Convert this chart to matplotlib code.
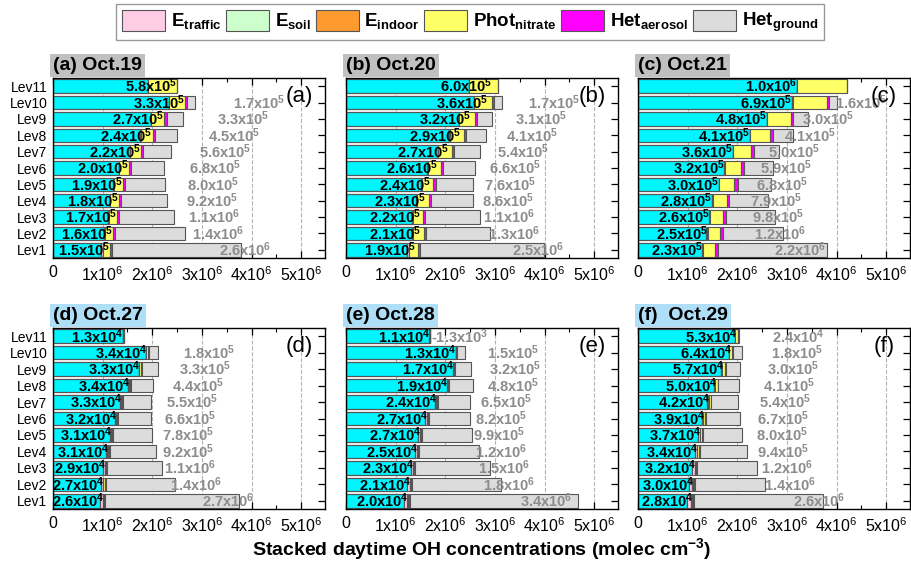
import matplotlib
matplotlib.use("Agg")
import matplotlib.pyplot as plt
from matplotlib.patches import Patch
from matplotlib.ticker import MultipleLocator, FixedLocator
import numpy as np

plt.rcParams['font.family'] = ['Liberation Sans', 'DejaVu Sans']
plt.rcParams['mathtext.fontset'] = 'custom'
plt.rcParams['mathtext.rm'] = 'Liberation Sans'
plt.rcParams['mathtext.bf'] = 'Liberation Sans:bold'
plt.rcParams['mathtext.it'] = 'Liberation Sans:italic'
plt.rcParams['mathtext.sf'] = 'Liberation Sans'
plt.rcParams['mathtext.default'] = 'regular'

levels = ['Lev1', 'Lev2', 'Lev3', 'Lev4', 'Lev5', 'Lev6', 'Lev7', 'Lev8', 'Lev9', 'Lev10', 'Lev11']
panel_titles = ['(a) Oct.19', '(b) Oct.20', '(c) Oct.21', '(d) Oct.27', '(e) Oct.28', '(f)  Oct.29']
panel_letters = ['(a)', '(b)', '(c)', '(d)', '(e)', '(f)']
legend_labels = [r'E$_{\mathbf{traffic}}$', r'E$_{\mathbf{soil}}$', r'E$_{\mathbf{indoor}}$',
                 r'Phot$_{\mathbf{nitrate}}$', r'Het$_{\mathbf{aerosol}}$', r'Het$_{\mathbf{ground}}$']

# Other OH (cyan base segment), molec cm-3, Lev1..Lev11
base_a = [0.97e6, 1.03e6, 1.10e6, 1.14e6, 1.21e6, 1.32e6, 1.55e6, 1.76e6, 1.97e6, 2.33e6, 1.92e6]
base_b = [1.23e6, 1.33e6, 1.32e6, 1.42e6, 1.51e6, 1.64e6, 1.85e6, 2.08e6, 2.27e6, 2.58e6, 2.47e6]
base_c = [1.28e6, 1.38e6, 1.44e6, 1.49e6, 1.63e6, 1.74e6, 1.91e6, 2.25e6, 2.59e6, 3.11e6, 3.20e6]
base_d = [0.95e6, 0.97e6, 1.01e6, 1.07e6, 1.14e6, 1.25e6, 1.35e6, 1.51e6, 1.73e6, 1.87e6, 1.41e6]
base_e = [1.16e6, 1.23e6, 1.30e6, 1.39e6, 1.46e6, 1.60e6, 1.79e6, 2.03e6, 2.16e6, 2.21e6, 1.68e6]
base_f = [0.99e6, 1.03e6, 1.09e6, 1.15e6, 1.21e6, 1.29e6, 1.40e6, 1.54e6, 1.68e6, 1.83e6, 1.95e6]

traffic_a = [3.0e4, 2.0e4, 1.5e4, 1.0e4, 8.0e3, 6.0e3, 5.0e3, 4.0e3, 3.0e3, 2.0e3, 1.0e3]
traffic_b = [3.0e4, 2.0e4, 1.5e4, 1.0e4, 8.0e3, 6.0e3, 5.0e3, 4.0e3, 3.0e3, 2.0e3, 1.0e3]
traffic_c = [3.0e4, 2.0e4, 1.5e4, 1.0e4, 8.0e3, 6.0e3, 5.0e3, 4.0e3, 3.0e3, 2.0e3, 1.0e3]
traffic_d = [5.0e4, 4.0e4, 3.0e4, 2.5e4, 2.0e4, 1.5e4, 1.2e4, 1.0e4, 8.0e3, 6.0e3, 3.0e3]
traffic_e = [7.5e4, 5.5e4, 4.5e4, 3.5e4, 3.0e4, 2.5e4, 2.0e4, 1.5e4, 1.2e4, 8.0e3, 3.0e3]
traffic_f = [8.5e4, 6.5e4, 5.0e4, 4.0e4, 3.0e4, 2.5e4, 2.0e4, 1.5e4, 1.0e4, 6.0e3, 3.0e3]

soil_a = [5.0e3, 4.0e3, 3.0e3, 2.5e3, 2.0e3, 1.5e3, 1.2e3, 1.0e3, 8.0e2, 6.0e2, 3.0e2]
soil_b = [5.0e3, 4.0e3, 3.0e3, 2.5e3, 2.0e3, 1.5e3, 1.2e3, 1.0e3, 8.0e2, 6.0e2, 3.0e2]
soil_c = [5.0e3, 4.0e3, 3.0e3, 2.5e3, 2.0e3, 1.5e3, 1.2e3, 1.0e3, 8.0e2, 6.0e2, 3.0e2]
soil_d = [4.0e3, 3.0e3, 2.5e3, 2.0e3, 1.5e3, 1.2e3, 1.0e3, 8.0e2, 6.0e2, 4.0e2, 2.0e2]
soil_e = [4.0e3, 3.0e3, 2.5e3, 2.0e3, 1.5e3, 1.2e3, 1.0e3, 8.0e2, 6.0e2, 4.0e2, 2.0e2]
soil_f = [4.0e3, 3.0e3, 2.5e3, 2.0e3, 1.5e3, 1.2e3, 1.0e3, 8.0e2, 6.0e2, 4.0e2, 2.0e2]

indoor_a = [3.0e3, 2.5e3, 2.0e3, 1.5e3, 1.2e3, 1.0e3, 8.0e2, 6.0e2, 5.0e2, 4.0e2, 2.0e2]
indoor_b = [3.0e3, 2.5e3, 2.0e3, 1.5e3, 1.2e3, 1.0e3, 8.0e2, 6.0e2, 5.0e2, 4.0e2, 2.0e2]
indoor_c = [3.0e3, 2.5e3, 2.0e3, 1.5e3, 1.2e3, 1.0e3, 8.0e2, 6.0e2, 5.0e2, 4.0e2, 2.0e2]
indoor_d = [2.0e3, 1.8e3, 1.5e3, 1.2e3, 1.0e3, 8.0e2, 6.0e2, 5.0e2, 4.0e2, 3.0e2, 2.0e2]
indoor_e = [2.0e3, 1.8e3, 1.5e3, 1.2e3, 1.0e3, 8.0e2, 6.0e2, 5.0e2, 4.0e2, 3.0e2, 2.0e2]
indoor_f = [2.0e3, 1.8e3, 1.5e3, 1.2e3, 1.0e3, 8.0e2, 6.0e2, 5.0e2, 4.0e2, 3.0e2, 2.0e2]

nitrate_a = [1.5e5, 1.6e5, 1.7e5, 1.8e5, 1.9e5, 2.0e5, 2.2e5, 2.4e5, 2.7e5, 3.3e5, 5.8e5]
nitrate_b = [1.9e5, 2.1e5, 2.2e5, 2.3e5, 2.4e5, 2.6e5, 2.7e5, 2.9e5, 3.2e5, 3.6e5, 6.0e5]
nitrate_c = [2.3e5, 2.5e5, 2.6e5, 2.8e5, 3.0e5, 3.2e5, 3.6e5, 4.1e5, 4.8e5, 6.9e5, 1.0e6]
nitrate_d = [2.6e4, 2.7e4, 2.9e4, 3.1e4, 3.1e4, 3.2e4, 3.3e4, 3.4e4, 3.3e4, 3.4e4, 1.3e4]
nitrate_e = [2.0e4, 2.1e4, 2.3e4, 2.5e4, 2.7e4, 2.7e4, 2.4e4, 1.9e4, 1.7e4, 1.3e4, 1.1e4]
nitrate_f = [2.8e4, 3.0e4, 3.2e4, 3.4e4, 3.7e4, 3.9e4, 4.2e4, 5.0e4, 5.7e4, 6.4e4, 5.3e4]

aerosol_a = [3.5e4, 4.0e4, 4.0e4, 4.0e4, 4.0e4, 3.5e4, 4.5e4, 4.5e4, 4.5e4, 3.5e4, 0.0]
aerosol_b = [3.5e4, 4.0e4, 4.0e4, 4.0e4, 4.5e4, 4.0e4, 4.0e4, 4.0e4, 4.5e4, 3.5e4, 0.0]
aerosol_c = [6.5e4, 6.0e4, 6.0e4, 5.3e4, 6.7e4, 6.7e4, 6.7e4, 5.3e4, 4.7e4, 5.3e4, 0.0]
aerosol_d = [2.0e4, 2.0e4, 2.0e4, 2.0e4, 2.0e4, 2.0e4, 2.0e4, 2.0e4, 1.5e4, 1.5e4, 0.0]
aerosol_e = [2.0e4, 2.0e4, 2.0e4, 2.0e4, 2.0e4, 2.0e4, 1.5e4, 1.5e4, 1.0e4, 1.0e4, 0.0]
aerosol_f = [2.0e4, 2.0e4, 2.0e4, 2.0e4, 2.0e4, 2.0e4, 1.5e4, 1.5e4, 1.5e4, 1.5e4, 5.0e3]

ground_a = [2.6e6, 1.4e6, 1.1e6, 9.2e5, 8.0e5, 6.8e5, 5.6e5, 4.5e5, 3.3e5, 1.7e5, 0.0]
ground_b = [2.5e6, 1.3e6, 1.1e6, 8.6e5, 7.6e5, 6.6e5, 5.4e5, 4.1e5, 3.1e5, 1.7e5, 0.0]
ground_c = [2.2e6, 1.2e6, 9.8e5, 7.9e5, 6.8e5, 5.9e5, 5.0e5, 4.1e5, 3.0e5, 1.6e5, 0.0]
ground_d = [2.7e6, 1.4e6, 1.1e6, 9.2e5, 7.8e5, 6.6e5, 5.5e5, 4.4e5, 3.3e5, 1.8e5, 0.0]
ground_e = [3.4e6, 1.8e6, 1.5e6, 1.2e6, 9.9e5, 8.2e5, 6.5e5, 4.8e5, 3.2e5, 1.5e5, -1.3e3]
ground_f = [2.6e6, 1.4e6, 1.2e6, 9.4e5, 8.0e5, 6.7e5, 5.4e5, 4.1e5, 3.0e5, 1.8e5, 2.4e4]

panels = [
    (base_a, traffic_a, soil_a, indoor_a, nitrate_a, aerosol_a, ground_a),
    (base_b, traffic_b, soil_b, indoor_b, nitrate_b, aerosol_b, ground_b),
    (base_c, traffic_c, soil_c, indoor_c, nitrate_c, aerosol_c, ground_c),
    (base_d, traffic_d, soil_d, indoor_d, nitrate_d, aerosol_d, ground_d),
    (base_e, traffic_e, soil_e, indoor_e, nitrate_e, aerosol_e, ground_e),
    (base_f, traffic_f, soil_f, indoor_f, nitrate_f, aerosol_f, ground_f),
]

# styling
base_color = '#00F5FF'
seg_colors = ['#FFCCE6', '#CCFFCC', '#FF9A2E', '#FFFF66', '#FF00FF', '#DCDCDC']
edge = '#555555'
title_bg = ['#C0C0C0'] * 3 + ['#AEDFF7'] * 3
# label placement style per panel
black_frac = [1.0, 0.8, 0.0, 1.0, 1.0, 1.0]
gray_shift = [1.37e6, 1.13e6, 0.55e6, 1.12e6, 1.05e6, 1.21e6]


def sci(v):
    if v == 0:
        return '0'
    e = int(np.floor(np.log10(abs(v))))
    m = v / 10 ** e
    if round(abs(m), 1) >= 10:
        e += 1
        m = v / 10 ** e
    return f'{m:.1f}x10' + r'$^{\mathbf{' + str(e) + '}}$'


W, H = 911, 569
fig = plt.figure(figsize=(W / 100, H / 100), dpi=100)

ax_w = 272 / W
lefts = [53 / W, 346 / W, 638 / W]
row_bottoms = [1 - 258 / H, 1 - 509 / H]
ax_h = [180 / H, 181 / H]

y = np.arange(1, len(levels) + 1)
for i, data in enumerate(panels):
    r, c = divmod(i, 3)
    ax = fig.add_axes([lefts[c], row_bottoms[r], ax_w, ax_h[r]])
    base = np.array(data[0])
    left = np.zeros(len(levels))
    ax.barh(y, base, left=left, height=0.82, color=base_color, edgecolor=edge, linewidth=0.9, zorder=2)
    left = left + base
    starts = []
    for seg, col in zip(data[1:], seg_colors):
        seg = np.array(seg)
        starts.append(left.copy())
        ax.barh(y, seg, left=left, height=0.82, color=col, edgecolor=edge, linewidth=0.8, zorder=2)
        left = left + seg
    total = left
    nitrate = np.array(data[4])
    ground = np.array(data[6])
    # black labels (Phot_nitrate)
    for k in range(len(levels)):
        xa = starts[3][k] + black_frac[i] * nitrate[k]
        ax.text(xa, y[k], sci(nitrate[k]), ha='right', va='center', fontsize=10.5,
                fontweight='bold', color='black', zorder=5)
    # gray labels (Het_ground)
    for k in range(len(levels)):
        g = ground[k]
        if g == 0:
            continue
        if g < 0:
            ax.text(max(total[k], starts[5][k]) + 0.02e6, y[k], sci(g), ha='left', va='center',
                    fontsize=10.5, fontweight='bold', color='#8C8C8C', zorder=5)
        else:
            xc = starts[5][k] + g / 2 + gray_shift[i]
            ax.text(xc, y[k], sci(g), ha='center', va='center', fontsize=10.5,
                    fontweight='bold', color='#8C8C8C', zorder=5)

    ax.set_xlim(0, 5.48e6)
    ax.set_ylim(0.5, len(levels) + 0.5)
    ax.set_yticks(y)
    ax.set_yticklabels(levels if c == 0 else [])
    ax.xaxis.set_major_locator(FixedLocator([0, 1e6, 2e6, 3e6, 4e6, 5e6]))
    ax.set_xticklabels(['0'] + [f'{n}x10' + r'$^{6}$' for n in range(1, 6)])
    ax.xaxis.set_minor_locator(MultipleLocator(0.5e6))
    ax.tick_params(axis='both', which='major', direction='in', top=True, right=True,
                   length=5, width=0.9)
    ax.tick_params(axis='x', which='minor', direction='in', top=True, length=3, width=0.8)
    ax.tick_params(axis='x', labelsize=11.5, pad=5)
    ax.tick_params(axis='y', labelsize=10, pad=4)
    ax.grid(axis='x', which='major', linestyle='--', color='#B4B4B4', linewidth=0.8, zorder=0)
    ax.set_axisbelow(True)
    for s in ax.spines.values():
        s.set_linewidth(1.0)
    ax.text(0.0, 1.0 + 4 / 180, panel_titles[i], transform=ax.transAxes, ha='left', va='bottom',
            fontsize=14, fontweight='bold',
            bbox=dict(facecolor=title_bg[i], edgecolor='none', boxstyle='square,pad=0.15'))
    ax.text(0.905, 0.9, panel_letters[i], transform=ax.transAxes, ha='center', va='center',
            fontsize=16, zorder=6)

handles = [Patch(facecolor=col, edgecolor=edge, linewidth=0.8) for col in seg_colors]
fig.legend(handles, legend_labels, loc='center', bbox_to_anchor=(470 / W, 1 - 22 / H), ncol=6,
           prop={'weight': 'bold', 'size': 13.5}, frameon=True, fancybox=False, edgecolor='#808080',
           handlelength=2.3, handleheight=1.35, handletextpad=0.3, columnspacing=0.25,
           borderpad=0.3, borderaxespad=0)

fig.text(482 / W, 1 - 549 / H, r'Stacked daytime OH concentrations (molec cm$^{\mathbf{-3}}$)',
         ha='center', va='center', fontsize=14, fontweight='bold')

fig.savefig('out.png', dpi=100)
